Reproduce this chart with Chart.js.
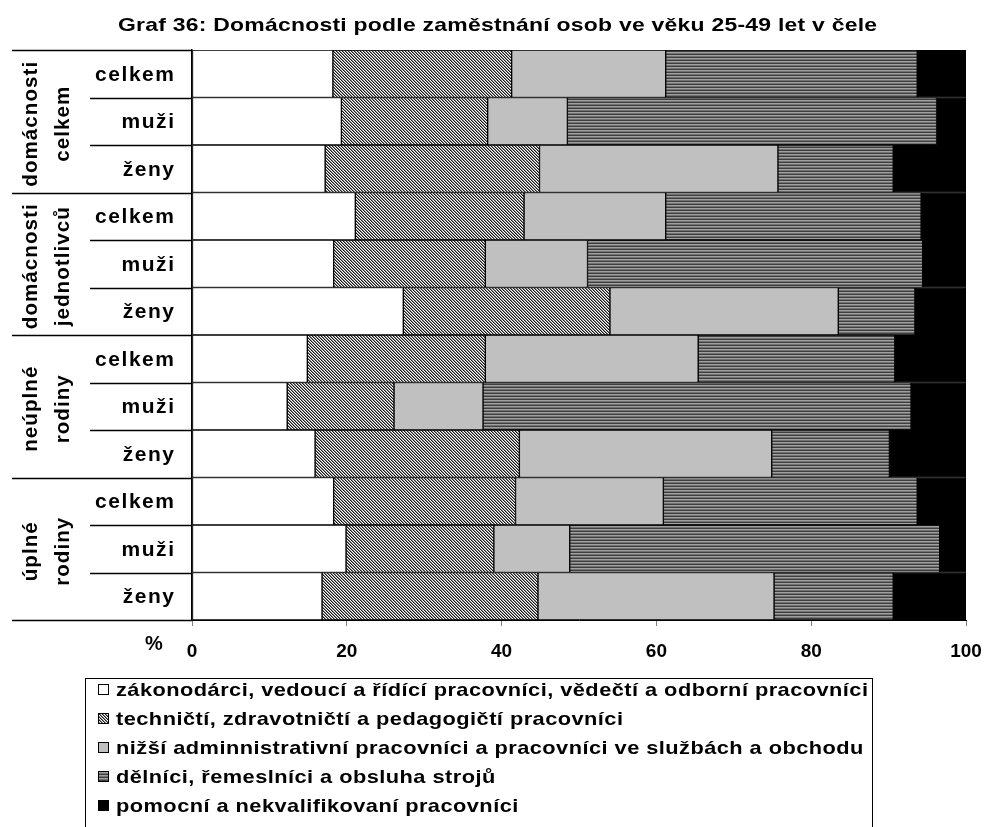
<!DOCTYPE html>
<html><head><meta charset="utf-8">
<script src="https://cdn.jsdelivr.net/npm/chart.js@4/dist/chart.umd.min.js"></script>
<style>html,body{margin:0;padding:0;background:#fff;overflow:hidden}</style>
</head><body>
<canvas id="c" width="984" height="827"></canvas>
<script>
// ---- data ----
const chartTitle = 'Graf 36: Domácnosti podle zaměstnání osob ve věku 25-49 let v čele';
const groupLabels = [['domácnosti','celkem'],['domácnosti','jednotlivců'],['neúplné','rodiny'],['úplné','rodiny']];
const rowLabels = ['celkem','muži','ženy','celkem','muži','ženy','celkem','muži','ženy','celkem','muži','ženy'];
const seriesNames = [
  'zákonodárci, vedoucí a řídící pracovníci, vědečtí a odborní pracovníci',
  'techničtí, zdravotničtí a pedagogičtí pracovníci',
  'nižší adminnistrativní pracovníci a pracovníci ve službách a obchodu',
  'dělníci, řemeslníci a obsluha strojů',
  'pomocní a nekvalifikovaní pracovníci'
];
const zakonodarci = [18.2,19.3,17.2,21.1,18.3,27.3,14.9,12.3,15.9,18.3,19.9,16.8];
const technicti   = [23.1,18.9,27.7,21.8,19.6,26.7,23.0,13.8,26.4,23.5,19.1,27.9];
const nizsi       = [19.9,10.3,30.8,18.3,13.2,29.5,27.5,11.5,32.6,19.1,9.8,30.5];
const delnici     = [32.5,47.7,14.9,33.0,43.3,9.9,25.4,55.3,15.2,32.8,47.8,15.4];
const pomocni     = [6.3,3.8,9.4,5.8,5.6,6.6,9.2,7.1,9.9,6.3,3.4,9.4];
const xTickValues = [0,20,40,60,80,100];
const axisUnit = '%';

// ---- styles ----
const FONT = '"Liberation Sans", Arial, sans-serif';
function makePattern(w, h, draw) {
  const c = document.createElement('canvas'); c.width = w; c.height = h;
  const g = c.getContext('2d'); draw(g);
  return g.createPattern(c, 'repeat');
}
const hatch = makePattern(3, 3, g => {
  g.fillStyle = '#ffffff'; g.fillRect(0,0,3,3);
  for (let i = 0; i < 3; i++) {
    g.fillStyle = '#1a1a1a'; g.fillRect(i, i, 1, 1);
    g.fillStyle = '#8a8a8a'; g.fillRect((i+1)%3, i, 1, 1);
  }
});
const stripes = makePattern(3, 3, g => {
  g.fillStyle = '#3e3e3e'; g.fillRect(0,0,3,1);
  g.fillStyle = '#a0a0a0'; g.fillRect(0,1,3,1);
  g.fillStyle = '#727272'; g.fillRect(0,2,3,1);
});
const fills = ['#ffffff', hatch, '#c0c0c0', stripes, '#000000'];
const seriesData = [zakonodarci, technicti, nizsi, delnici, pomocni];

function natW(ctx, text, spacing) {
  ctx.letterSpacing = spacing + 'px';
  const w = ctx.measureText(text).width - spacing;
  ctx.letterSpacing = '0px';
  return w;
}
function drawScaled(ctx, text, x, y, sx, spacing, align) {
  const w = natW(ctx, text, spacing) * sx;
  let x0 = x;
  if (align === 'center') x0 = x - w/2;
  else if (align === 'right') x0 = x - w;
  ctx.save();
  ctx.translate(x0, y);
  ctx.scale(sx, 1);
  ctx.textAlign = 'left';
  ctx.letterSpacing = spacing + 'px';
  ctx.fillText(text, 0, 0);
  ctx.restore();
}

const deco = {
  id: 'deco',
  afterDraw(chart) {
    const ctx = chart.ctx;
    const ca = chart.chartArea;
    const y = chart.scales.y;
    ctx.save();
    ctx.fillStyle = '#000';
    ctx.textBaseline = 'alphabetic';
    // title
    ctx.font = 'bold 19px ' + FONT;
    let sx = 759 / natW(ctx, chartTitle, 0.2);
    drawScaled(ctx, chartTitle, 497.5, 31, sx, 0.2, 'center');

    // left separator lines
    const n = rowLabels.length;
    const step = (ca.bottom - ca.top) / n;
    ctx.strokeStyle = '#000'; ctx.lineWidth = 1.5;
    for (let i = 0; i <= n; i++) {
      const yy = Math.round(ca.top + i*step) + 0.5;
      const x0 = (i % 3 === 0) ? 12 : 90;
      ctx.beginPath(); ctx.moveTo(x0, yy); ctx.lineTo(ca.left, yy); ctx.stroke();
    }
    // row labels
    ctx.font = 'bold 20px ' + FONT;
    sx = 79 / natW(ctx, 'celkem', 1.5);
    rowLabels.forEach((lab, i) => {
      drawScaled(ctx, lab, 174, y.getPixelForValue(i) + 7, sx, 1.5, 'right');
    });
    // group labels (rotated)
    sx = 125 / natW(ctx, 'domácnosti', 1);
    groupLabels.forEach((g, gi) => {
      const yc = ca.top + (gi*3 + 1.5) * step + 3;
      [37, 69].forEach((xb, li) => {
        ctx.save();
        ctx.translate(xb, yc);
        ctx.rotate(-Math.PI/2);
        drawScaled(ctx, g[li], 0, 0, sx, 1, 'center');
        ctx.restore();
      });
    });
    // % sign
    ctx.font = 'bold 20px ' + FONT;
    ctx.textAlign = 'center';
    ctx.fillText(axisUnit, 154, 650);

    // legend
    ctx.strokeStyle = '#000'; ctx.lineWidth = 1;
    ctx.strokeRect(85.5, 678.5, 787, 160);
    ctx.font = 'bold 19px ' + FONT;
    sx = 752 / natW(ctx, seriesNames[0], 0.4);
    seriesNames.forEach((name, i) => {
      const yc = 690 + i*29;
      ctx.fillStyle = fills[i];
      ctx.fillRect(98, yc - 6, 11, 11);
      ctx.strokeStyle = '#000'; ctx.lineWidth = 1;
      ctx.strokeRect(98.5, yc - 5.5, 10, 10);
      ctx.fillStyle = '#000';
      drawScaled(ctx, name, 116, yc + 6, sx, 0.4, 'left');
    });
    ctx.restore();
  }
};

new Chart(document.getElementById('c'), {
  type: 'bar',
  data: {
    labels: rowLabels,
    datasets: seriesData.map((d, i) => ({
      label: seriesNames[i],
      data: d,
      backgroundColor: fills[i],
      borderColor: '#000',
      borderWidth: 1,
      borderSkipped: false,
      barPercentage: 1,
      categoryPercentage: 1
    }))
  },
  options: {
    indexAxis: 'y',
    responsive: false,
    animation: false,
    layout: { padding: { top: 50, right: 18, bottom: 162, left: 0 } },
    plugins: { legend: { display: false }, title: { display: false }, tooltip: { enabled: false } },
    scales: {
      x: {
        type: 'linear', stacked: true, min: 0, max: 100,
        afterBuildTicks: s => { s.ticks = xTickValues.map(v => ({ value: v })); },
        afterFit: s => { s.height = 45; s.paddingLeft = 0; s.paddingRight = 0; },
        grid: { drawOnChartArea: false, drawTicks: true, tickLength: 6, color: '#808080' },
        border: { display: true, color: '#000', width: 1 },
        ticks: { font: { family: FONT, size: 19, weight: 'bold' }, color: '#000', padding: 14, maxRotation: 0 }
      },
      y: {
        stacked: true,
        afterFit: s => { s.width = 192; s.paddingTop = 0; s.paddingBottom = 0; },
        grid: { display: false },
        border: { display: true, color: '#000', width: 1.5 },
        ticks: { display: false }
      }
    }
  },
  plugins: [deco]
});
</script>
</body></html>
